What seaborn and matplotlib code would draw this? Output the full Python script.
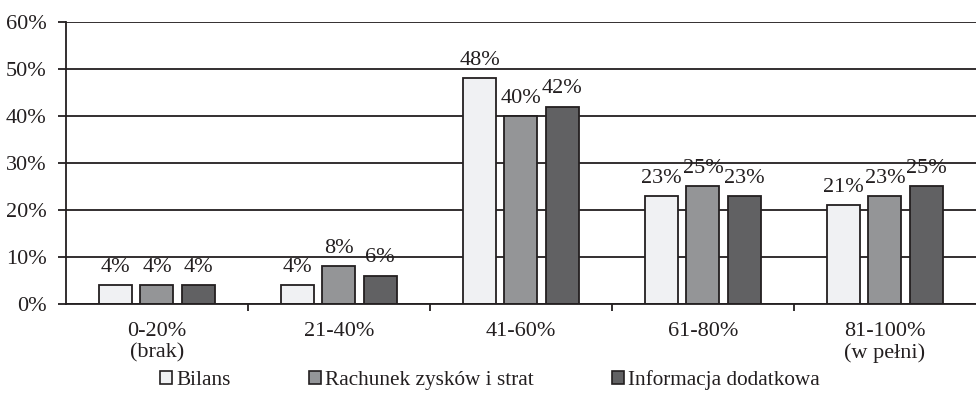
import matplotlib
matplotlib.use("Agg")
import matplotlib.pyplot as plt
import seaborn as sns
import pandas as pd
from matplotlib.patches import Patch
from matplotlib.ticker import FixedLocator

categories = ["0-20%\n(brak)", "21-40%", "41-60%", "61-80%", "81-100%\n(w pełni)"]
series = ["Bilans", "Rachunek zysków i strat", "Informacja dodatkowa"]
bilans = [4, 4, 48, 23, 21]
rachunek = [4, 8, 40, 25, 23]
informacja = [4, 6, 42, 23, 25]
yticks = [0, 10, 20, 30, 40, 50, 60]
colors = ["#f0f1f3", "#939598", "#616163"]
edge = "#231f20"

df = pd.DataFrame({
    "kategoria": categories * 3,
    "seria": [series[0]] * 5 + [series[1]] * 5 + [series[2]] * 5,
    "wartosc": bilans + rachunek + informacja,
})

sns.set_theme(style="white")
plt.rcParams["font.family"] = ["Liberation Serif", "DejaVu Serif"]
plt.rcParams["font.size"] = 16

fig = plt.figure(figsize=(9.76, 3.93), dpi=100)
ax = fig.add_axes([0.0676, 0.2265, 0.9324, 0.7175])

sns.barplot(data=df, x="kategoria", y="wartosc", hue="seria", order=categories,
            hue_order=series, palette=colors, width=0.68, gap=0.2,
            edgecolor=edge, linewidth=1.3, legend=False, ax=ax, zorder=3)

for cont in ax.containers:
    ax.bar_label(cont, labels=[f"{v:.0f}%" for v in cont.datavalues],
                 padding=6, fontsize=16, color=edge)

ax.set_xlim(-0.5, 4.5)
ax.set_ylim(0, 60)
ax.set_yticks(yticks)
ax.set_yticklabels([f"{t}%" for t in yticks], fontsize=16, color=edge)
ax.yaxis.grid(True, color=edge, linewidth=1.3, zorder=0)
ax.set_axisbelow(True)
ax.set_xlabel("")
ax.set_ylabel("")

ax.set_xticks(range(len(categories)))
ax.set_xticklabels(categories, fontsize=16, color=edge, linespacing=1.12)
ax.xaxis.set_minor_locator(FixedLocator([0.5, 1.5, 2.5, 3.5]))
ax.tick_params(axis="x", which="major", length=0, pad=13)
ax.tick_params(axis="x", which="minor", length=5, width=1.3, color=edge, bottom=True)
ax.tick_params(axis="y", length=6, width=1.3, color=edge, left=True, pad=8)

for s in ["top", "right"]:
    ax.spines[s].set_visible(False)
for s in ["left", "bottom"]:
    ax.spines[s].set_color(edge)
    ax.spines[s].set_linewidth(1.3)
    ax.spines[s].set_zorder(4)

handles = [Patch(facecolor=c, edgecolor=edge, linewidth=1.2) for c in colors]
fig.legend(handles, series, loc="center", bbox_to_anchor=(0.502, 0.033),
           ncol=3, frameon=False, fontsize=15.3, handlelength=0.58, handleheight=0.58,
           handletextpad=0.2, columnspacing=3.67, labelcolor=edge,
           borderpad=0, borderaxespad=0)

fig.savefig("out.png", dpi=100)
